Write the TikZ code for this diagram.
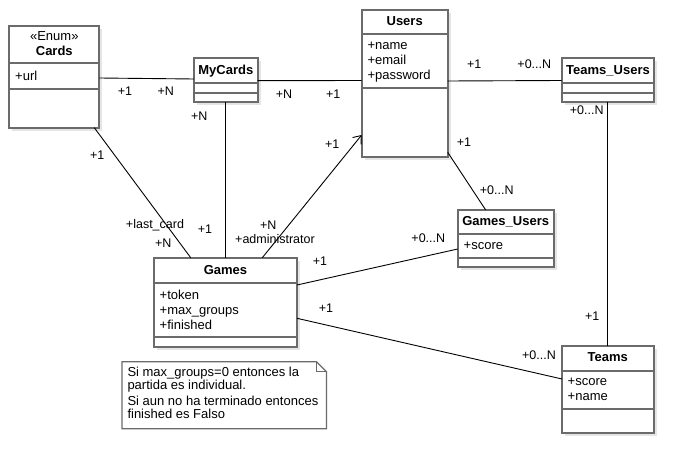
\documentclass[tikz,border=0pt]{standalone}
\usepackage{fontspec}
\setmainfont{Liberation Sans}
\usetikzlibrary{arrows.meta,shadows}
\definecolor{boxgray}{HTML}{6B6B6B}
\newcommand{\attrfont}{\fontsize{13}{15}\selectfont}
\newcommand{\lblfont}{\fontsize{12.5}{14}\selectfont}
\tikzset{
  classbox/.style={draw=boxgray, line width=1.8pt, fill=white, anchor=north west,
    inner sep=0pt, outer sep=0pt,
    drop shadow={shadow xshift=3pt, shadow yshift=-3pt, fill=black!10, opacity=1}},
  sepline/.style={draw=boxgray, line width=1.8pt},
  ctitle/.style={font=\attrfont\bfseries, inner sep=0pt, text height=9.5pt, text depth=2.5pt},
  stereo/.style={font=\attrfont, inner sep=0pt, text height=9.5pt, text depth=2.5pt},
  attr/.style={font=\attrfont, inner sep=0pt, anchor=west, text height=9.5pt, text depth=2.5pt},
  lbl/.style={font=\lblfont, inner sep=0pt, text height=9pt, text depth=2.5pt},
  conn/.style={draw=black, line width=0.9pt},
  notebox/.style={draw=boxgray, line width=1.2pt, fill=white},
}
\begin{document}
\begin{tikzpicture}[x=1pt,y=-1pt]
\useasboundingbox (0,0) rectangle (694,473);
\fill[white] (0,0) rectangle (694,473);

% ---------- connectors (drawn first) ----------
\coordinate (p) at (0,0);

% ---------- classes ----------
% Cards
\node[classbox, minimum width=90pt, minimum height=102pt] (cards) at (9.3,25.7) {};
\draw[sepline] (cards.west |- 0,63.3) -- (cards.east |- 0,63.3);
\draw[sepline] (cards.west |- 0,88.7) -- (cards.east |- 0,88.7);
\node[stereo] (cardsst) at (54.3,36.7) {«Enum»};
\node[ctitle] (cardst) at (54.3,51.7) {Cards};
\node[attr] (cardsa) at (15,76.7) {+url};

% MyCards
\node[classbox, minimum width=63.7pt, minimum height=43.7pt] (mycards) at (194,58) {};
\draw[sepline] (mycards.west |- 0,82.7) -- (mycards.east |- 0,82.7);
\draw[sepline] (mycards.west |- 0,92.7) -- (mycards.east |- 0,92.7);
\node[ctitle] (mycardst) at (225.85,70.7) {MyCards};

% Users
\node[classbox, minimum width=86pt, minimum height=146.7pt] (users) at (361.7,10) {};
\draw[sepline] (users.west |- 0,34.3) -- (users.east |- 0,34.3);
\draw[sepline] (users.west |- 0,87.7) -- (users.east |- 0,87.7);
\node[ctitle] (userst) at (404.7,22.5) {Users};
\node[attr] (usersa1) at (367.3,45.7) {+name};
\node[attr] (usersa2) at (367.3,60.7) {+email};
\node[attr] (usersa3) at (367.3,75.7) {+password};

% Teams_Users
\node[classbox, minimum width=92.6pt, minimum height=44pt] (teamsusers) at (561.7,57.7) {};
\draw[sepline] (teamsusers.west |- 0,82.7) -- (teamsusers.east |- 0,82.7);
\draw[sepline] (teamsusers.west |- 0,92.7) -- (teamsusers.east |- 0,92.7);
\node[ctitle] (teamsuserst) at (608,70.7) {Teams\_Users};

% Games_Users
\node[classbox, minimum width=96pt, minimum height=56.7pt] (gamesusers) at (457.7,210) {};
\draw[sepline] (gamesusers.west |- 0,234.3) -- (gamesusers.east |- 0,234.3);
\draw[sepline] (gamesusers.west |- 0,257.7) -- (gamesusers.east |- 0,257.7);
\node[ctitle] (gamesuserst) at (505.7,222.3) {Games\_Users};
\node[attr] (gamesusersa) at (463.5,245.7) {+score};

% Teams
\node[classbox, minimum width=91.7pt, minimum height=87pt] (teams) at (562,345.7) {};
\draw[sepline] (teams.west |- 0,371) -- (teams.east |- 0,371);
\draw[sepline] (teams.west |- 0,409.3) -- (teams.east |- 0,409.3);
\node[ctitle] (teamst) at (607.85,358.3) {Teams};
\node[attr] (teamsa1) at (567.5,381.7) {+score};
\node[attr] (teamsa2) at (567.5,396.7) {+name};

% Games
\node[classbox, minimum width=143pt, minimum height=89pt] (games) at (154,257.7) {};
\draw[sepline] (games.west |- 0,282.7) -- (games.east |- 0,282.7);
\draw[sepline] (games.west |- 0,337.3) -- (games.east |- 0,337.3);
\node[ctitle] (gamest) at (225.5,270.7) {Games};
\node[attr] (gamesa1) at (159.5,296) {+token};
\node[attr] (gamesa2) at (159.5,311) {+max\_groups};
\node[attr] (gamesa3) at (159.5,326) {+finished};

% ---------- connectors ----------
\draw[conn] (cards.east |- 0,78) -- (mycards.west |- 0,79);
\draw[conn] (mycards.east |- 0,80.7) -- (users.west |- 0,80.5);
\draw[conn] (mycards.south -| 225,0) -- (games.north -| 225,0);
\draw[conn] (cards.south -| 94.3,0) -- (games.north -| 190.7,0);
\draw[conn, -{Straight Barb[length=7pt,width=11pt]}] (games.north -| 262.3,0) -- (users.west |- 0,135);
\draw[conn] (users.east |- 0,81) -- (teamsusers.west |- 0,80.5);
\draw[conn] (users.east |- 0,152.3) -- (gamesusers.north -| 485.7,0);
\draw[conn] (teamsusers.south -| 607.7,0) -- (teams.north -| 607.7,0);
\draw[conn] (games.east |- 0,285) -- (gamesusers.west |- 0,249);
\draw[conn] (games.east |- 0,318.3) -- (teams.west |- 0,379);

% ---------- labels ----------
\node[lbl] (l1) at (125,92.3) {+1};
\node[lbl] (l2) at (165.7,92.3) {+N};
\node[lbl] (l3) at (284,95.7) {+N};
\node[lbl] (l4) at (333.3,95.7) {+1};
\node[lbl] (l5) at (199.3,117.7) {+N};
\node[lbl] (l6) at (205,230.7) {+1};
\node[lbl] (l7) at (97.3,156.7) {+1};
\node[lbl] (l8) at (155,225) {+last\_card};
\node[lbl] (l9) at (163.3,244.3) {+N};
\node[lbl] (l10) at (332.3,145.3) {+1};
\node[lbl] (l11) at (268.3,226) {+N};
\node[lbl] (l12) at (275,240) {+administrator};
\node[lbl] (l13) at (474.3,65.7) {+1};
\node[lbl] (l14) at (534.3,65.7) {+0...N};
\node[lbl] (l15) at (464,143.3) {+1};
\node[lbl] (l16) at (496.7,191.7) {+0...N};
\node[lbl] (l17) at (586.7,111.7) {+0...N};
\node[lbl] (l18) at (592.3,317.3) {+1};
\node[lbl] (l19) at (320,262.7) {+1};
\node[lbl] (l20) at (428.3,239.3) {+0...N};
\node[lbl] (l21) at (326,309.3) {+1};
\node[lbl] (l22) at (539,356.7) {+0...N};

% ---------- note ----------
\node[inner sep=0pt, minimum width=204pt, minimum height=66.6pt, anchor=north west] (note) at (122,361.7) {};
\draw[notebox] (note.north west) -- ([xshift=-10pt]note.north east) -- ([yshift=-10pt]note.north east)
  -- (note.south east) -- (note.south west) -- cycle;
\draw[notebox, fill=none] ([xshift=-10pt]note.north east) -- ([xshift=-10pt,yshift=-10pt]note.north east) -- ([yshift=-10pt]note.north east);
\node[attr] (n1) at (127.3,372.7) {Si max\_groups=0 entonces la};
\node[attr] (n2) at (127.3,386) {partida es individual.};
\node[attr] (n3) at (127.3,402.3) {Si aun no ha terminado entonces};
\node[attr] (n4) at (127.3,415) {finished es Falso};
\end{tikzpicture}
\end{document}
